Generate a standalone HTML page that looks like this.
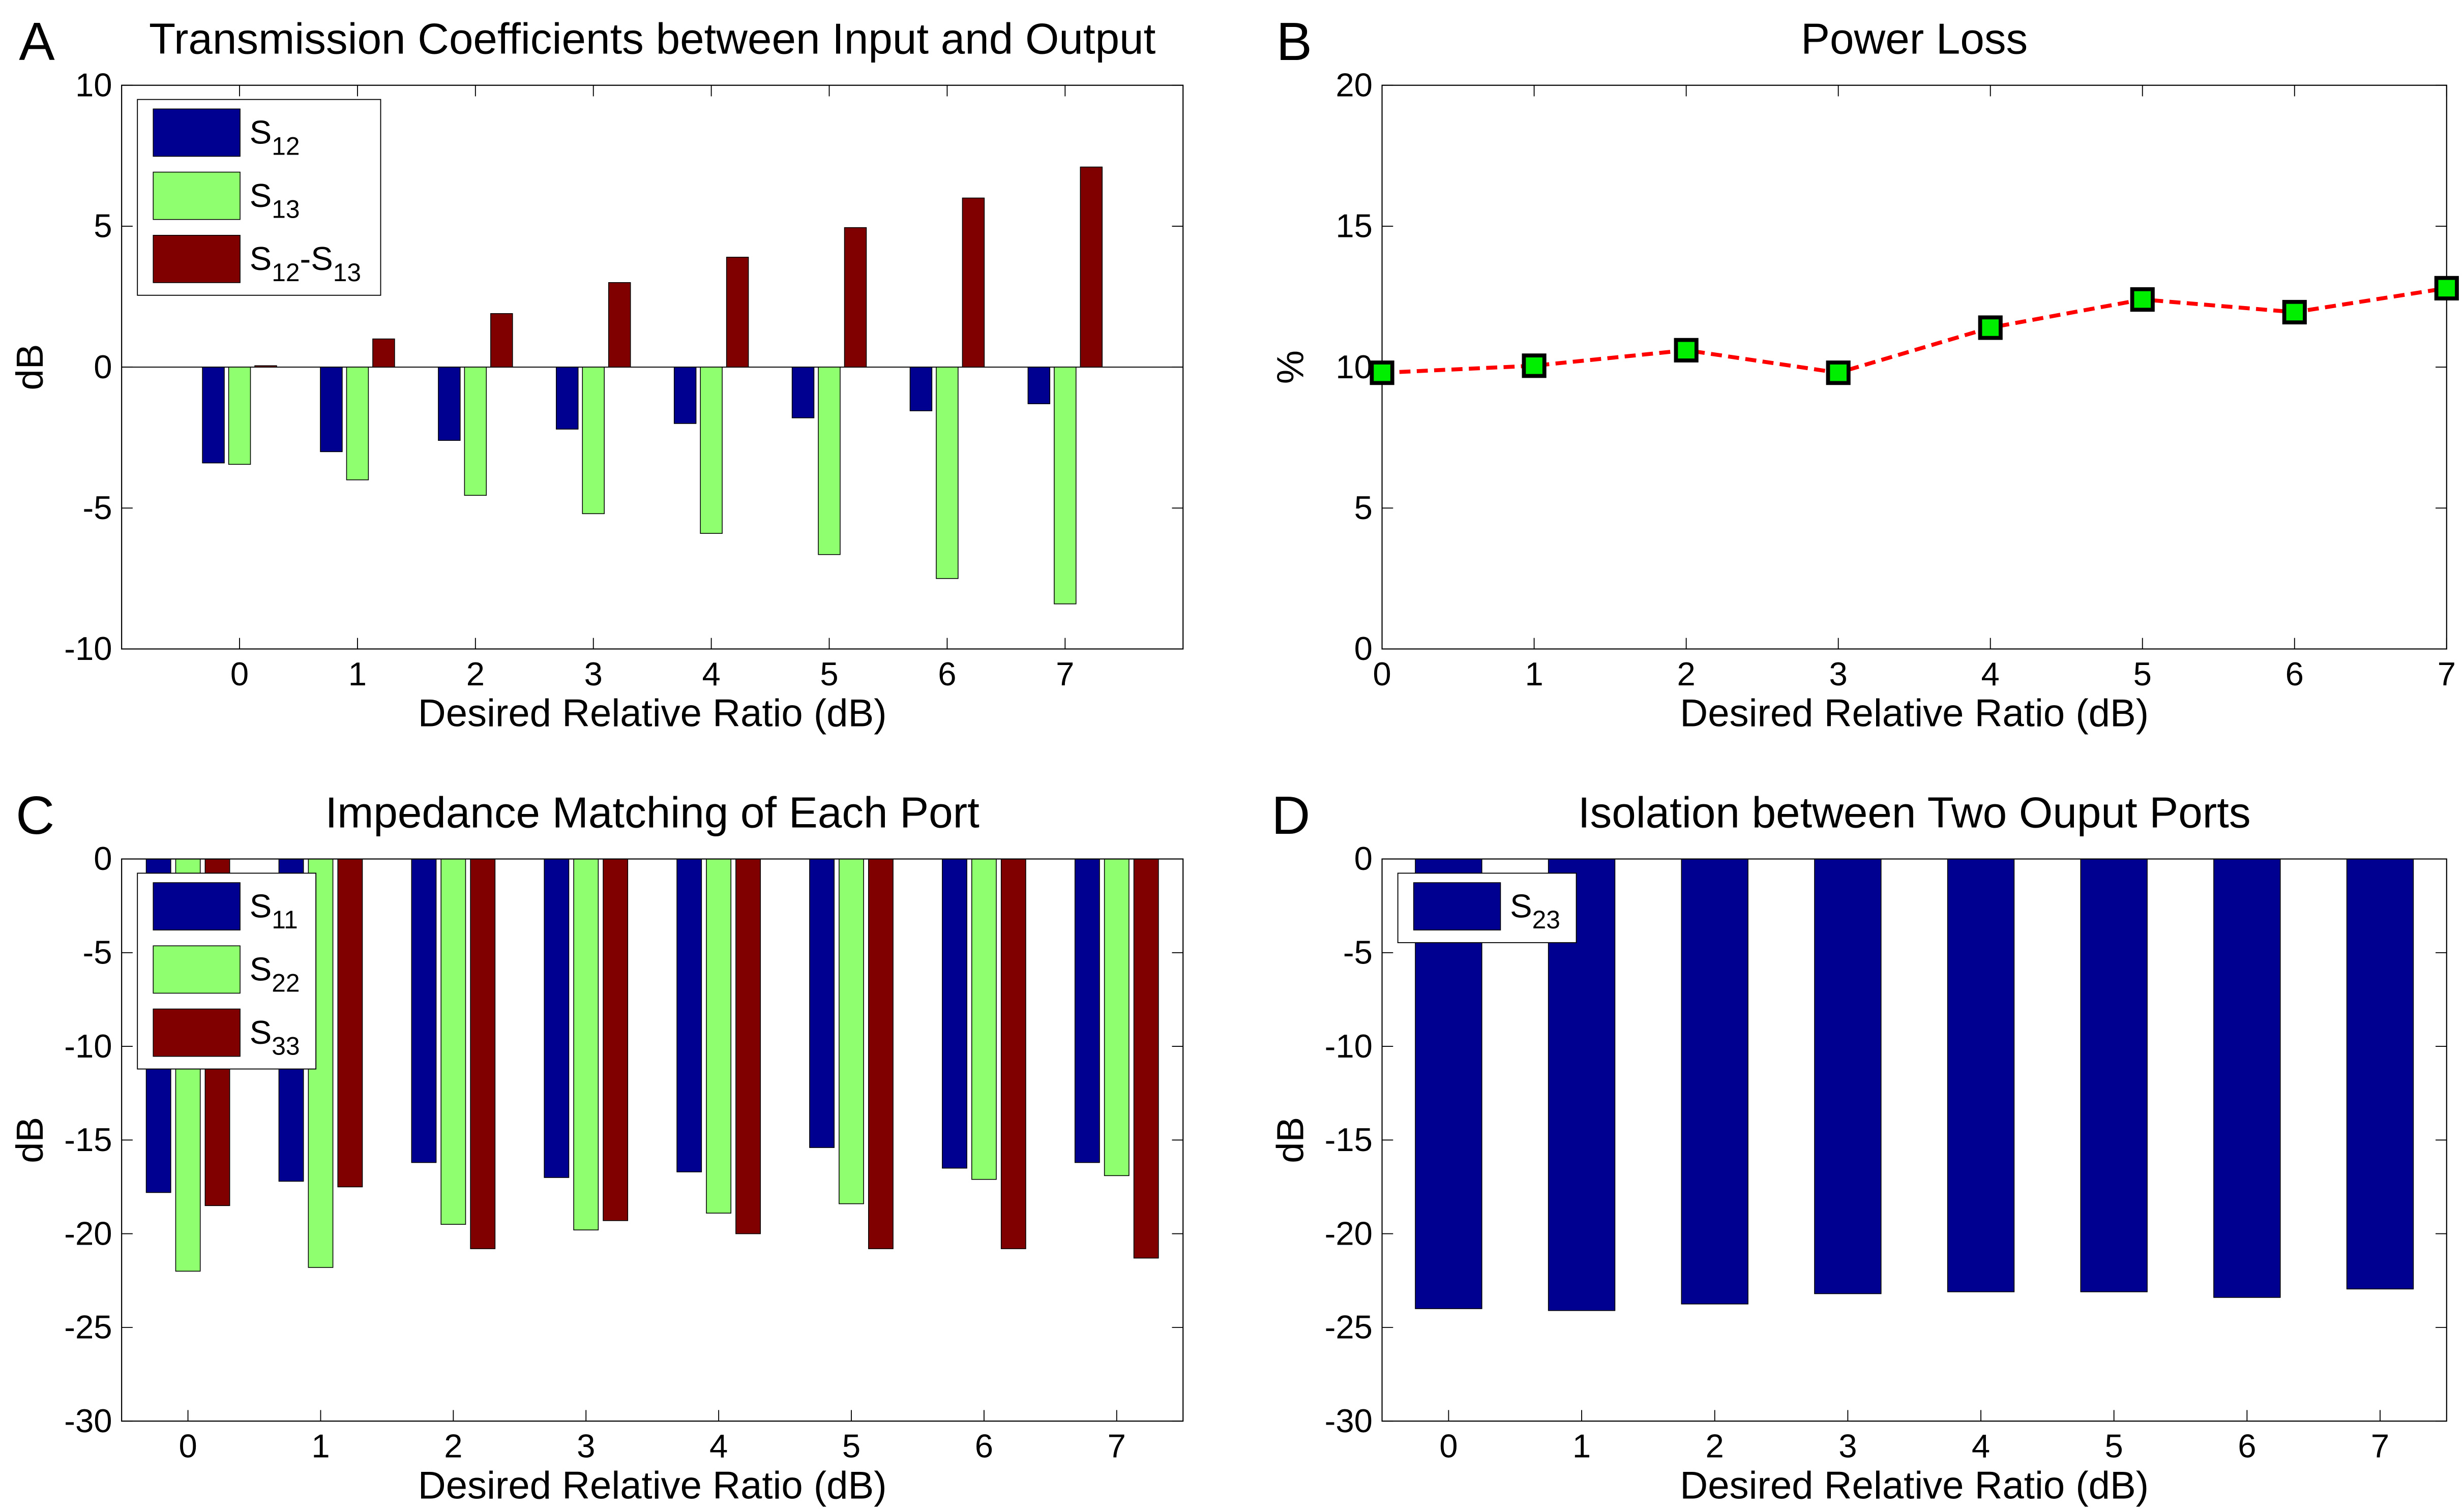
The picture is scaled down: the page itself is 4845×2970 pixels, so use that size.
<!DOCTYPE html>
<html><head><meta charset="utf-8"><style>
html,body{margin:0;padding:0;background:#fff}
svg{display:block;font-family:"Liberation Sans",Arial,sans-serif}
</style></head><body>
<svg id="fig" xmlns="http://www.w3.org/2000/svg" width="4845" height="2970" viewBox="0 0 1560 956.3" preserveAspectRatio="none"></svg>
<script>
const cats = [0,1,2,3,4,5,6,7];
const aS12 = [-3.4,-3.0,-2.6,-2.2,-2.0,-1.8,-1.55,-1.3];
const aS13 = [-3.45,-4.0,-4.55,-5.2,-5.9,-6.65,-7.5,-8.4];
const aDiff = [0.05,1.0,1.9,3.0,3.9,4.95,6.0,7.1];
const bLoss = [9.8,10.05,10.6,9.8,11.4,12.4,11.95,12.8];
const cS11 = [-17.8,-17.2,-16.2,-17.0,-16.7,-15.4,-16.5,-16.2];
const cS22 = [-22.0,-21.8,-19.5,-19.8,-18.9,-18.4,-17.1,-16.9];
const cS33 = [-18.5,-17.5,-20.8,-19.3,-20.0,-20.8,-20.8,-21.3];
const dS23 = [-24.0,-24.1,-23.75,-23.2,-23.1,-23.1,-23.4,-22.95];
const aTicks = [-10,-5,0,5,10];
const bTicks = [0,5,10,15,20];
const cTicks = [-30,-25,-20,-15,-10,-5,0];

const NS='http://www.w3.org/2000/svg';
const svg=document.getElementById('fig');
function mk(tag,attrs,parent){const e=document.createElementNS(NS,tag);for(const k in attrs)e.setAttribute(k,attrs[k]);(parent||svg).appendChild(e);return e;}
function txt(s,attrs,parent){const e=mk('text',attrs,parent);e.textContent=s;return e;}

const BLUE='#000090',GREEN='#8fff6f',RED='#800000';

function axes(name,L,R,T,B,xmin,xmax,ymin,ymax,yticks,title,letter,lx,ylabel,xticks){
  const g=mk('g',{},svg);
  
  
  const sx=v=>L+(v-xmin)/(xmax-xmin)*(R-L);
  const sy=v=>B-(v-ymin)/(ymax-ymin)*(B-T);
  const bg=mk('rect',{x:L,y:T,width:R-L,height:B-T,fill:'#fff'},g);
  
  
  const t=txt(title,{x:(L+R)/2,y:T-20,'font-size':27.5,'text-anchor':'middle'},g);
  
  
  const lt=txt(letter,{x:lx,y:T-16,'font-size':34},g);
  
  
  const yl=txt(ylabel,{x:0,y:0,'font-size':24,'text-anchor':'middle',transform:`translate(${L-50},${(T+B)/2}) rotate(-90)`},g);
  
  
  const xl=txt('Desired Relative Ratio (dB)',{x:(L+R)/2,y:B+49,'font-size':24.5,'text-anchor':'middle'},g);
  
  
  yticks.forEach(v=>{
    const y=sy(v);
    mk('line',{x1:L,x2:L+7,y1:y,y2:y,stroke:'#000','stroke-width':0.6},g);
    mk('line',{x1:R,x2:R-7,y1:y,y2:y,stroke:'#000','stroke-width':0.6},g);
    const tl=txt(String(v),{x:L-6,y:y+7,'font-size':21,'text-anchor':'end'},g);
    
    
  });
  xticks.forEach(v=>{
    const x=sx(v);
    mk('line',{x1:x,x2:x,y1:B,y2:B-7,stroke:'#000','stroke-width':0.6},g);
    mk('line',{x1:x,x2:x,y1:T,y2:T+7,stroke:'#000','stroke-width':0.6},g);
    const tl=txt(String(v),{x:x,y:B+23,'font-size':21,'text-anchor':'middle'},g);
    
    
  });
  return {g,sx,sy,L,R,T,B};
}
function frame(ax){mk('rect',{x:ax.L,y:ax.T,width:ax.R-ax.L,height:ax.B-ax.T,fill:'none',stroke:'#000','stroke-width':0.7},ax.g);}
function bars(ax,vals,off,w,color,name){
  vals.forEach((v,i)=>{
    const x0=ax.sx(cats[i]+off-w/2),x1=ax.sx(cats[i]+off+w/2);
    const y0=ax.sy(0),y1=ax.sy(v);
    const r=mk('rect',{x:x0,y:Math.min(y0,y1),width:x1-x0,height:Math.abs(y1-y0),fill:color,stroke:'#000','stroke-width':0.5},ax.g);
    
    
  });
}
function legend(ax,x,y,w,items){
  const h=items.length*40+4;
  const lg=mk('g',{},ax.g);
  
  
  mk('rect',{x:x,y:y,width:w,height:h,fill:'#fff',stroke:'#000','stroke-width':0.6},lg);
  items.forEach((it,i)=>{
    const yy=y+6+i*40;
    mk('rect',{x:x+10,y:yy,width:55,height:30,fill:it[0],stroke:'#000','stroke-width':0.5},lg);
    const t=mk('text',{x:x+71,y:yy+22,'font-size':21},lg);
    
    
    it[1].forEach((p,j)=>{const s=document.createElementNS(NS,'tspan');if(j%2==1){s.setAttribute('dy','7');s.setAttribute('font-size','16');}else if(j>0){s.setAttribute('dy','-7');}s.textContent=p;t.appendChild(s);});
  });
}

// Panel A
const A=axes('panel-a-transmission',77,749,54,411,-1,8,-10,10,aTicks,'Transmission Coefficients between Input and Output','A',12,'dB',cats);
mk('line',{x1:A.L,x2:A.R,y1:A.sy(0),y2:A.sy(0),stroke:'#000','stroke-width':0.6},A.g);
bars(A,aS12,-0.222,0.185,BLUE,'s12');
bars(A,aS13,0,0.185,GREEN,'s13');
bars(A,aDiff,0.222,0.185,RED,'s12-s13');
frame(A);
legend(A,87,63,154,[[BLUE,['S','12']],[GREEN,['S','13']],[RED,['S','12','-S','13']]]);

// Panel B
const Bx=axes('panel-b-power-loss',875,1549,54,411,0,7,0,20,bTicks,'Power Loss','B',808,'%',cats);
frame(Bx);
let pts=bLoss.map((v,i)=>Bx.sx(cats[i])+','+Bx.sy(v)).join(' ');
const pl=mk('polyline',{points:pts,fill:'none',stroke:'#ff0000','stroke-width':2.5,'stroke-dasharray':'7,4'},Bx.g);


bLoss.forEach((v,i)=>{
  const m=mk('rect',{x:Bx.sx(cats[i])-6.5,y:Bx.sy(v)-6.5,width:13,height:13,fill:'#00ee00',stroke:'#000','stroke-width':2.5},Bx.g);
  
  
});

// Panel C
const C=axes('panel-c-impedance',77,749,544,900,-0.5,7.5,-30,0,cTicks,'Impedance Matching of Each Port','C',10,'dB',cats);
bars(C,cS11,-0.222,0.185,BLUE,'s11');
bars(C,cS22,0,0.185,GREEN,'s22');
bars(C,cS33,0.222,0.185,RED,'s33');
frame(C);
legend(C,87,553,113,[[BLUE,['S','11']],[GREEN,['S','22']],[RED,['S','33']]]);

// Panel D
const D=axes('panel-d-isolation',875,1549,544,900,-0.5,7.5,-30,0,cTicks,'Isolation between Two Ouput Ports','D',805,'dB',cats);
bars(D,dS23,0,0.5,BLUE,'s23');
frame(D);
legend(D,885,553,113,[[BLUE,['S','23']]]);
</script>
</body></html>
